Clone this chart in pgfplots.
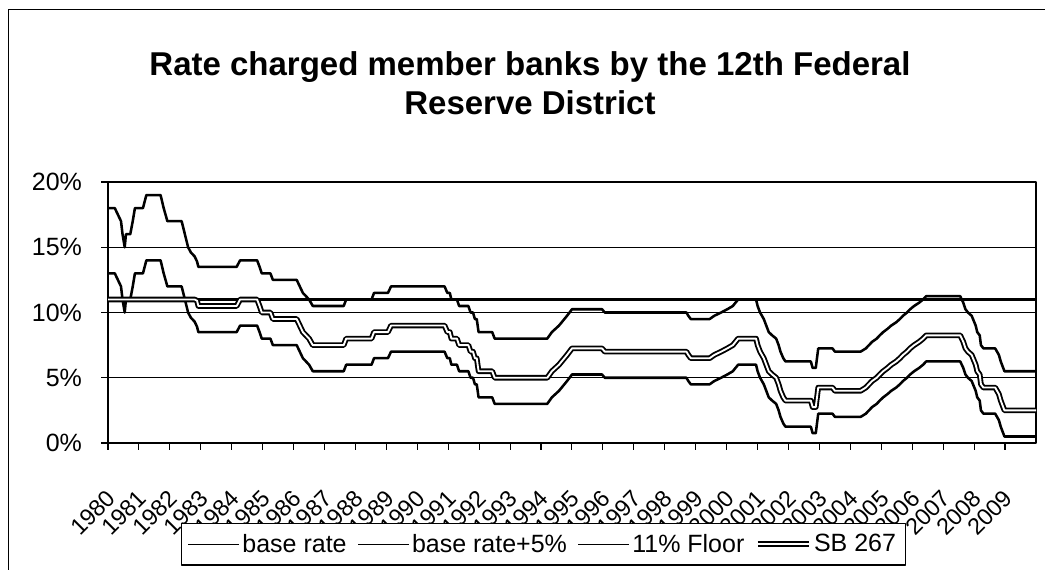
\documentclass[border=0pt]{standalone}
\usepackage{fontspec}
\setmainfont{Liberation Sans}
\usepackage{pgfplots}
\usepackage{pgfplotstable}
\pgfplotsset{compat=1.18}

% Discount rate charged by the 12th District (percent), with the derived series
% t = fractional year, base = base rate, plusfive = base rate + 5, sb = SB 267
\pgfplotstableread{
t base plusfive sb
1980.00 13 18 11
1980.22 13 18 11
1980.42 12 17 11
1980.47 11 16 11
1980.54 10 15 11
1980.58 11 16 11
1980.72 11 16 11
1980.80 12 17 11
1980.87 13 18 11
1981.13 13 18 11
1981.24 14 19 11
1981.70 14 19 11
1981.80 13 18 11
1981.92 12 17 11
1982.38 12 17 11
1982.59 10 15 11
1982.68 9.6 14.6 11
1982.80 9.3 14.3 11
1982.88 8.9 13.9 10.9
1982.92 8.5 13.5 10.5
1984.16 8.5 13.5 10.5
1984.27 9 14 11
1984.82 9 14 11
1984.90 8.5 13.5 10.5
1984.97 8 13 10
1985.25 8 13 10
1985.33 7.5 12.5 9.5
1986.10 7.5 12.5 9.5
1986.20 7 12 9
1986.30 6.5 11.5 8.5
1986.50 6 11 8
1986.62 5.5 10.5 7.5
1987.62 5.5 10.5 7.5
1987.70 6 11 8
1988.52 6 11 8
1988.60 6.5 11.5 8.5
1989.05 6.5 11.5 8.5
1989.15 7 12 9
1990.88 7 12 9
1990.97 6.5 11.5 8.5
1991.05 6.5 11.5 8.5
1991.10 6 11 8
1991.28 6 11 8
1991.35 5.5 10.5 7.5
1991.65 5.5 10.5 7.5
1991.72 5 10 7
1991.80 5 10 7
1991.86 4.5 9.5 6.5
1991.92 4.5 9.5 6.5
1991.98 3.5 8.5 5.5
1992.42 3.5 8.5 5.5
1992.50 3 8 5
1994.20 3 8 5
1994.35 3.5 8.5 5.5
1994.58 4 9 6
1994.84 4.75 9.75 6.75
1995.00 5.25 10.25 7.25
1995.97 5.25 10.25 7.25
1996.06 5 10 7
1998.70 5 10 7
1998.76 4.75 9.75 6.75
1998.84 4.5 9.5 6.5
1999.45 4.5 9.5 6.5
1999.60 4.75 9.75 6.75
1999.82 5 10 7
2000.02 5.25 10.25 7.25
2000.20 5.5 10.5 7.5
2000.37 6 11 8
2000.95 6 11 8
2001.00 5.5 10.5 7.5
2001.08 5 10 7
2001.20 4.5 9.5 6.5
2001.28 4 9 6
2001.36 3.5 8.5 5.5
2001.47 3.25 8.25 5.25
2001.60 3 8 5
2001.68 2.5 7.5 4.5
2001.74 2 7 4
2001.83 1.5 6.5 3.5
2001.90 1.25 6.25 3.25
2002.72 1.25 6.25 3.25
2002.78 0.75 5.75 2.75
2002.88 0.75 5.75 2.75
2002.96 2.25 7.25 4.25
2003.42 2.25 7.25 4.25
2003.50 2 7 4
2004.33 2 7 4
2004.50 2.25 7.25 4.25
2004.60 2.5 7.5 4.5
2004.70 2.75 7.75 4.75
2004.85 3 8 5
2004.95 3.25 8.25 5.25
2005.06 3.5 8.5 5.5
2005.20 3.75 8.75 5.75
2005.32 4 9 6
2005.48 4.25 9.25 6.25
2005.60 4.5 9.5 6.5
2005.70 4.75 9.75 6.75
2005.83 5 10 7
2005.93 5.25 10.25 7.25
2006.06 5.5 10.5 7.5
2006.22 5.75 10.75 7.75
2006.35 6 11 8
2006.45 6.25 11.25 8.25
2007.55 6.25 11.25 8.25
2007.65 5.75 10.75 7.75
2007.72 5.25 10.25 7.25
2007.80 5 10 7
2007.92 4.75 9.75 6.75
2008.05 4 9 6
2008.10 3.5 8.5 5.5
2008.18 3.25 8.25 5.25
2008.22 2.5 7.5 4.5
2008.30 2.25 7.25 4.25
2008.68 2.25 7.25 4.25
2008.80 1.75 6.75 3.75
2008.86 1.25 6.25 3.25
2008.98 0.5 5.5 2.5
2010.00 0.5 5.5 2.5
}\ratetable

% the flat 11% floor
\pgfplotstableread{
t floor
1980 11
2010 11
}\floortable

\begin{document}
\begin{tikzpicture}
\path[use as bounding box] (0pt,0pt) rectangle (783.75pt,-426.75pt);
% chart area frame (left and top edges)
\draw[line width=1.1pt] (6.5pt,-440pt) -- (6.5pt,-7pt) -- (800pt,-7pt);
% title
\node[font=\fontsize{24.75}{28.5}\selectfont\bfseries, anchor=base] at (397.5pt,-56.5pt) {Rate charged member banks by the 12th Federal};
\node[font=\fontsize{24.75}{28.5}\selectfont\bfseries, anchor=base] at (397.5pt,-85.5pt) {Reserve District};
\begin{axis}[
  at={(81pt,-332.25pt)}, anchor=south west,
  scale only axis, width=696pt, height=195.75pt,
  xmin=1980, xmax=2010, ymin=0, ymax=20,
  xtick={1980,...,2009},
  xticklabels={1980,1981,1982,1983,1984,1985,1986,1987,1988,1989,1990,1991,1992,1993,1994,1995,1996,1997,1998,1999,2000,2001,2002,2003,2004,2005,2006,2007,2008,2009},
  ytick={0,5,10,15,20},
  yticklabels={0\%,5\%,10\%,15\%,20\%},
  xtick pos=bottom, ytick pos=left,
  tick align=outside,
  major tick length=5pt,
  tick style={black, line width=0.8pt},
  axis line style={line width=2pt},
  ymajorgrids, major grid style={black, line width=0.8pt},
  xticklabel style={font=\fontsize{17.5}{19}\selectfont, yshift=-31pt, xshift=5pt, rotate=45, anchor=east},
  yticklabel style={font=\fontsize{18.75}{20}\selectfont, xshift=-11pt},
  legend columns=4,
  legend style={at={(axis description cs:0.469,-0.3065)}, anchor=north,
    draw=black, line width=0.8pt, fill=white,
    font=\fontsize{18.75}{22}\selectfont,
    /tikz/every even column/.append style={column sep=6pt},
    inner xsep=5pt, inner ysep=6pt},
  legend image code/.code={\draw[#1] (0pt,0pt) -- (35pt,0pt); \path (0pt,0pt) -- (38pt,0pt);},
  line join=round,
]
\addplot[black, line width=1.9pt, legend image post style={line width=1pt}] table[x=t, y=base] {\ratetable};
\addlegendentry{base rate}
\addplot[black, line width=1.9pt, legend image post style={line width=1pt}] table[x=t, y=plusfive] {\ratetable};
\addlegendentry{base rate+5\%}
\addplot[black, line width=2.1pt, legend image post style={line width=1pt}] table[x=t, y=floor] {\floortable};
\addlegendentry{11\% Floor}
\addplot[black, line width=1.4pt, double=white, double distance=1.4pt] table[x=t, y=sb] {\ratetable};
\addlegendentry{SB 267}
\end{axis}
\end{tikzpicture}
\end{document}
